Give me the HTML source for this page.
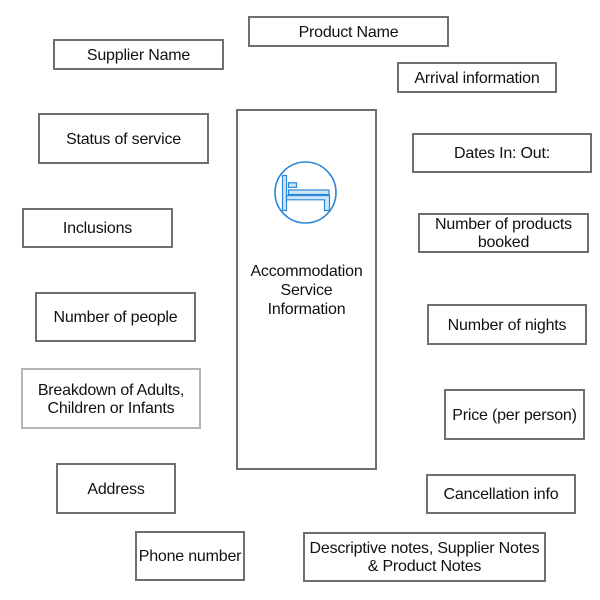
<!DOCTYPE html>
<html>
<head>
<meta charset="utf-8">
<style>
  html,body{margin:0;padding:0;background:#fff;}
  body{width:600px;height:600px;position:relative;overflow:hidden;
       font-family:"Liberation Sans", Arial, sans-serif;font-size:16px;color:#111;}
  .b{position:absolute;box-sizing:border-box;border:2px solid #6f6f6f;background:#fff;
     display:flex;align-items:center;justify-content:center;text-align:center;
     line-height:18px;white-space:nowrap;letter-spacing:-0.2px;padding-top:2px;}
  .light{border-color:#b4b4b4;}
</style>
</head>
<body>
<div class="b" style="left:248px;top:16px;width:201px;height:31px;">Product Name</div>
<div class="b" style="left:53px;top:39px;width:171px;height:31px;">Supplier Name</div>
<div class="b" style="left:397px;top:62px;width:160px;height:31px;">Arrival information</div>
<div class="b" style="left:38px;top:113px;width:171px;height:51px;">Status of service</div>
<div class="b" style="left:236px;top:109px;width:141px;height:361px;"></div>
<div class="b" style="left:412px;top:133px;width:180px;height:40px;">Dates In: Out:</div>
<div class="b" style="left:22px;top:208px;width:151px;height:40px;">Inclusions</div>
<div class="b" style="left:418px;top:213px;width:171px;height:40px;">Number of products<br>booked</div>
<div class="b" style="left:35px;top:292px;width:161px;height:50px;">Number of people</div>
<div class="b" style="left:427px;top:304px;width:160px;height:41px;">Number of nights</div>
<div class="b light" style="left:21px;top:368px;width:180px;height:61px;">Breakdown of Adults,<br>Children or Infants</div>
<div class="b" style="left:444px;top:389px;width:141px;height:51px;">Price (per person)</div>
<div class="b" style="left:56px;top:463px;width:120px;height:51px;">Address</div>
<div class="b" style="left:426px;top:474px;width:150px;height:40px;">Cancellation info</div>
<div class="b" style="left:135px;top:531px;width:110px;height:50px;">Phone number</div>
<div class="b" style="left:303px;top:532px;width:243px;height:50px;">Descriptive notes, Supplier Notes<br>&amp; Product Notes</div>

<div style="position:absolute;left:236px;top:263px;width:141px;text-align:center;line-height:18.8px;letter-spacing:-0.2px;">Accommodation<br>Service<br>Information</div>

<svg style="position:absolute;left:0;top:0" width="600" height="600" viewBox="0 0 600 600">
  <circle cx="305.5" cy="192.5" r="30.5" fill="none" stroke="#2a86d6" stroke-width="1.6"/>
  <g fill="#cfe5f8" stroke="#2a86d6" stroke-width="1.2">
    <rect x="282.5" y="175.5" width="4" height="35"/>
    <rect x="288.5" y="182.8" width="8" height="4.5"/>
    <rect x="288.5" y="190" width="40.5" height="4.5"/>
    <path d="M286.5 195.5 L329.5 195.5 L329.5 210.5 L324.5 210.5 L324.5 199.8 L286.5 199.8 Z"/>
  </g>
</svg>
</body>
</html>
